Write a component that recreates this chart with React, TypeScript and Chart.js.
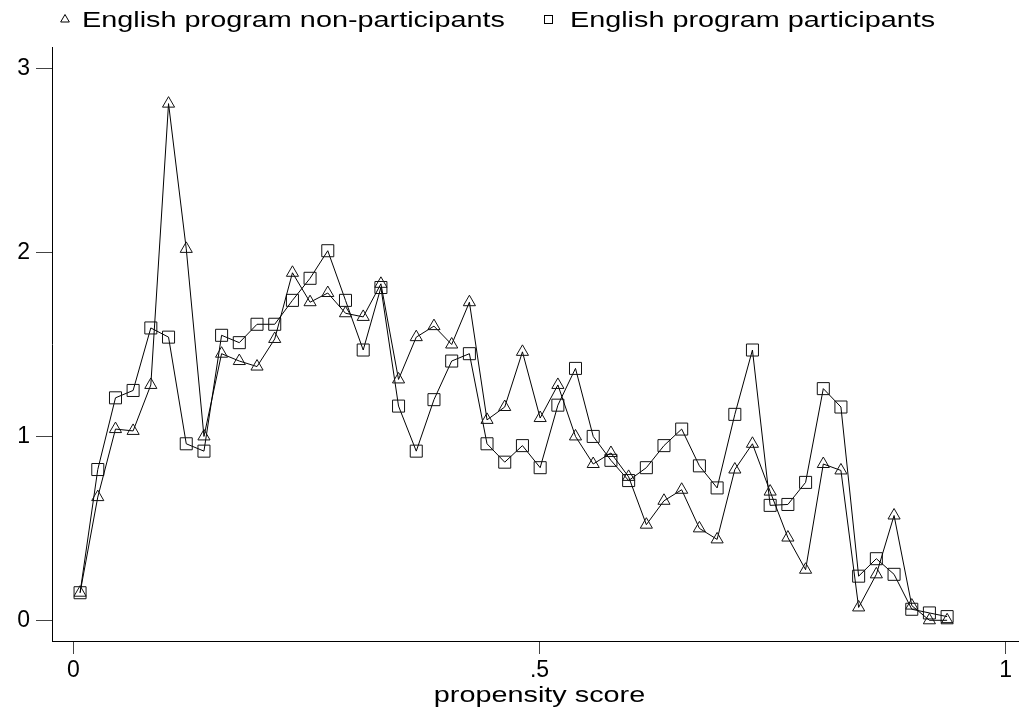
import React, { useEffect, useRef } from "react";
import { Chart, registerables } from "chart.js";

Chart.register(...registerables);

// Evaluation points of the density estimates (propensity score)
const propensityScore = [
  0.0072, 0.0262, 0.0452, 0.0641, 0.0831, 0.1021, 0.1211, 0.1401, 0.159, 0.178,
  0.197, 0.216, 0.235, 0.2539, 0.2729, 0.2919, 0.3109, 0.3299, 0.3488, 0.3678,
  0.3868, 0.4058, 0.4248, 0.4437, 0.4627, 0.4817, 0.5007, 0.5197, 0.5386, 0.5576,
  0.5766, 0.5956, 0.6146, 0.6335, 0.6525, 0.6715, 0.6905, 0.7095, 0.7284, 0.7474,
  0.7664, 0.7854, 0.8044, 0.8233, 0.8423, 0.8613, 0.8803, 0.8993, 0.9182, 0.9372,
];

// Density among non-participants (triangles)
const nonParticipants = [
  0.15, 0.67, 1.04, 1.03, 1.28, 2.81, 2.02, 1.0, 1.45, 1.41,
  1.38, 1.53, 1.89, 1.73, 1.78, 1.67, 1.65, 1.83, 1.31, 1.54,
  1.6, 1.5, 1.73, 1.09, 1.16, 1.46, 1.1, 1.28, 1.0, 0.85,
  0.91, 0.78, 0.52, 0.65, 0.71, 0.5, 0.44, 0.82, 0.96, 0.7,
  0.45, 0.275, 0.85, 0.815, 0.07, 0.25, 0.57, 0.08, 0.0, 0.0,
];

// Density among participants (squares)
const participants = [
  0.15, 0.82, 1.21, 1.25, 1.59, 1.54, 0.96, 0.92, 1.55, 1.51,
  1.61, 1.61, 1.74, 1.86, 2.01, 1.74, 1.47, 1.81, 1.165, 0.92,
  1.2, 1.41, 1.45, 0.96, 0.86, 0.95, 0.83, 1.17, 1.37, 1.0,
  0.87, 0.76, 0.83, 0.95, 1.04, 0.84, 0.72, 1.12, 1.47, 0.625,
  0.63, 0.75, 1.26, 1.16, 0.24, 0.335, 0.25, 0.06, 0.04, 0.02,
];

const seriesLabels = ["English program non-participants", "English program participants"];
const xTickValues = [0, 0.5, 1];
const xTickLabels = ["0", ".5", "1"];
const yTickValues = [0, 1, 2, 3];
const yTickLabels = ["0", "1", "2", "3"];
const xAxisTitle = "propensity score";

const WIDTH = 1019;
const HEIGHT = 710;
const FONT_FAMILY = '"Liberation Sans", Arial, Helvetica, sans-serif';
const TEXT_SIZE = 22;
const TEXT_STRETCH = 1.31;

function fillStretched(
  ctx: CanvasRenderingContext2D,
  text: string,
  left: number,
  baseline: number
) {
  ctx.save();
  ctx.translate(left, baseline);
  ctx.scale(TEXT_STRETCH, 1);
  ctx.textAlign = "left";
  ctx.textBaseline = "alphabetic";
  ctx.fillText(text, 0, 0);
  ctx.restore();
}

function strokeTriangle(ctx: CanvasRenderingContext2D, cx: number, cy: number, r: number) {
  ctx.beginPath();
  ctx.moveTo(cx, cy - r);
  ctx.lineTo(cx + r * 0.866, cy + r * 0.5);
  ctx.lineTo(cx - r * 0.866, cy + r * 0.5);
  ctx.closePath();
  ctx.stroke();
}

// Legend row on top and the x-axis title, drawn with slightly widened lettering
const textPlugin = {
  id: "stataText",
  afterDraw(chart: Chart) {
    const ctx = chart.ctx;
    ctx.save();
    ctx.font = `${TEXT_SIZE}px ${FONT_FAMILY}`;
    ctx.fillStyle = "#000";
    ctx.strokeStyle = "#000";
    ctx.lineWidth = 1;

    const w1 = ctx.measureText(seriesLabels[0]).width * TEXT_STRETCH;
    const baseline = 26.5;
    const markerY = 19.5;

    const text1Left = 82;
    strokeTriangle(ctx, text1Left - 17, markerY, 5);
    fillStretched(ctx, seriesLabels[0], text1Left, baseline);

    const text2Left = text1Left + w1 + 65;
    ctx.strokeRect(Math.round(text2Left - 26) + 0.5, markerY - 4, 8, 8);
    fillStretched(ctx, seriesLabels[1], text2Left, baseline);

    const area = chart.chartArea;
    const tw = ctx.measureText(xAxisTitle).width * TEXT_STRETCH;
    fillStretched(ctx, xAxisTitle, (area.left + area.right) / 2 - tw / 2 + 4, 701.5);
    ctx.restore();
  },
};

export default function App() {
  const canvasRef = useRef<HTMLCanvasElement | null>(null);

  useEffect(() => {
    const canvas = canvasRef.current;
    if (!canvas) return;

    const makeSeries = (values: number[]) =>
      propensityScore.map((x, i) => ({ x, y: values[i] }));

    const axisGrid = (tickLength: number) => ({
      display: true,
      drawOnChartArea: false,
      drawTicks: true,
      tickLength,
      color: "#444",
      lineWidth: 1,
    });

    const chart = new Chart(canvas, {
      type: "line",
      data: {
        datasets: [
          {
            label: seriesLabels[0],
            data: makeSeries(nonParticipants),
            borderColor: "#000",
            borderWidth: 1,
            pointStyle: "triangle",
            pointRadius: 7,
            pointBorderWidth: 1,
            pointBorderColor: "#111",
            pointBackgroundColor: "rgba(0,0,0,0)",
            tension: 0,
            fill: false,
          },
          {
            label: seriesLabels[1],
            data: makeSeries(participants),
            borderColor: "#000",
            borderWidth: 1,
            pointStyle: "rect",
            pointRadius: 8.5,
            pointBorderWidth: 1,
            pointBorderColor: "#111",
            pointBackgroundColor: "rgba(0,0,0,0)",
            tension: 0,
            fill: false,
          },
        ],
      },
      options: {
        responsive: false,
        animation: false,
        devicePixelRatio: 1,
        layout: { autoPadding: false, padding: { top: 47, left: 0, right: 0, bottom: 0 } },
        plugins: {
          legend: { display: false },
          tooltip: { enabled: false },
          title: { display: false },
        },
        scales: {
          x: {
            type: "linear",
            min: -0.0229,
            max: 1.0143,
            afterBuildTicks: (scale: any) => {
              scale.ticks = xTickValues.map((value) => ({ value }));
            },
            afterFit: (scale: any) => {
              scale.height = 69;
              scale.paddingLeft = 0;
              scale.paddingRight = 0;
            },
            ticks: {
              autoSkip: false,
              maxRotation: 0,
              padding: 3,
              color: "#000",
              font: { family: FONT_FAMILY, size: 23 },
              callback: (value: any) => xTickLabels[xTickValues.indexOf(Number(value))] ?? "",
            },
            grid: axisGrid(13),
            border: { display: true, color: "#000", width: 1 },
          },
          y: {
            type: "linear",
            min: -0.1126,
            max: 3.118,
            afterBuildTicks: (scale: any) => {
              scale.ticks = yTickValues.map((value) => ({ value }));
            },
            afterFit: (scale: any) => {
              scale.width = 52;
              scale.paddingTop = 0;
              scale.paddingBottom = 0;
            },
            ticks: {
              autoSkip: false,
              padding: 6,
              color: "#000",
              font: { family: FONT_FAMILY, size: 23 },
              callback: (value: any) => yTickLabels[yTickValues.indexOf(Number(value))] ?? "",
            },
            grid: axisGrid(16),
            border: { display: true, color: "#000", width: 1 },
          },
        },
      },
      plugins: [textPlugin],
    });

    return () => chart.destroy();
  }, []);

  return (
    <div style={{ position: "absolute", left: 0, top: 0, width: WIDTH, height: HEIGHT, background: "#fff" }}>
      <canvas ref={canvasRef} width={WIDTH} height={HEIGHT} style={{ display: "block" }} />
    </div>
  );
}
